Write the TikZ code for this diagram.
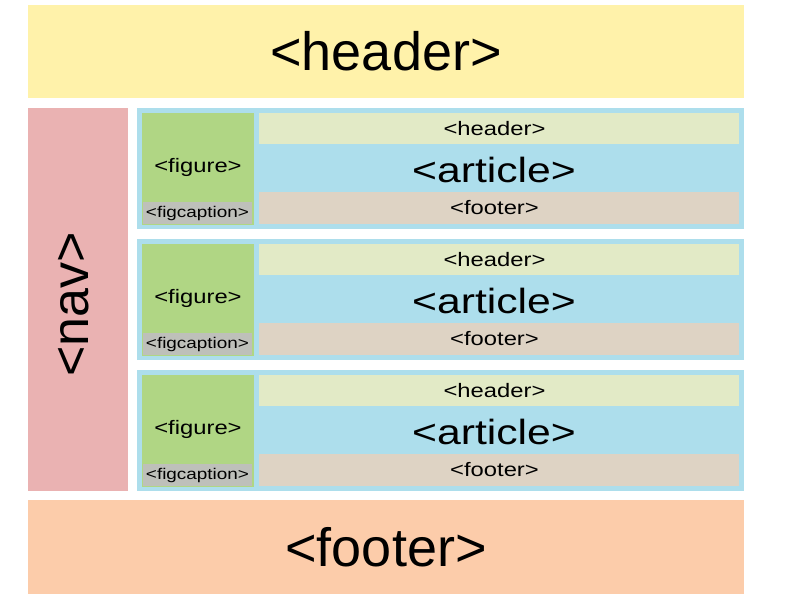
\documentclass[tikz,border=0pt]{standalone}
\usepackage{fontspec}
\setmainfont{Liberation Sans}
\newfontfamily\widefont[FakeStretch=1.22]{Liberation Sans}
\usepackage{xcolor}
\definecolor{headyellow}{RGB}{255, 242, 170}
\definecolor{navpink}{RGB}{234, 178, 178}
\definecolor{artblue}{RGB}{173, 222, 236}
\definecolor{figgreen}{RGB}{176, 214, 132}
\definecolor{capgray}{RGB}{190, 192, 186}
\definecolor{subhead}{RGB}{226, 234, 198}
\definecolor{subfoot}{RGB}{222, 211, 196}
\definecolor{footpeach}{RGB}{252, 204, 170}
\usepackage{tikz}
\usetikzlibrary{positioning}

\begin{document}
\begin{tikzpicture}[x=1pt, y=-1pt,
    box/.style={inner sep=0pt, outer sep=0pt},
    bigtext/.style={font=\fontsize{54}{60}\selectfont},
    arttext/.style={font=\widefont\fontsize{35}{40}\selectfont},
    midtext/.style={font=\widefont\fontsize{19.5}{22}\selectfont},
    captext/.style={font=\widefont\fontsize{15.5}{18}\selectfont}]
    \useasboundingbox[fill=white] (0,0) rectangle (798,603);

    \node[box, fill=headyellow, minimum width=716pt, minimum height=93pt] (header) at (386,51.5) {};
    \node[bigtext] (headertext) at (header) {<header>};

    \node[box, fill=navpink, minimum width=100pt, minimum height=383pt] (nav) at (78,299.5) {};
    \node[bigtext, font=\fontsize{52}{58}\selectfont, rotate=90, anchor=base, inner sep=0pt] (navtext) at (88,304.5) {<nav>};

    \foreach \i/\d in {1/0, 2/131, 3/262} {
        \node[box, fill=artblue, minimum width=607pt, minimum height=121pt] (art\i) at (440.5,168.5+\d) {};
        \node[box, fill=figgreen, minimum width=112pt, minimum height=112pt] (fig\i) at (198,169+\d) {};
        \node[midtext] (figtext\i) at (198,167+\d) {<figure>};
        \node[box, fill=capgray, minimum width=109pt, minimum height=22pt] (cap\i) at (197.5,213+\d) {};
        \node[captext] (captext\i) at (cap\i) {<figcaption>};
        \node[box, fill=subhead, minimum width=480pt, minimum height=31pt] (arthead\i) at (499,128.5+\d) {};
        \node[midtext] (artheadtext\i) at (494.5,128.5+\d) {<header>};
        \node[arttext] (arttext\i) at (494,170+\d) {<article>};
        \node[box, fill=subfoot, minimum width=480pt, minimum height=32pt] (artfoot\i) at (499,208+\d) {};
        \node[midtext] (artfoottext\i) at (494.5,208+\d) {<footer>};
    }

    \node[box, fill=footpeach, minimum width=716pt, minimum height=94pt] (footer) at (386,547) {};
    \node[bigtext] (footertext) at (footer) {<footer>};
\end{tikzpicture}
\end{document}
